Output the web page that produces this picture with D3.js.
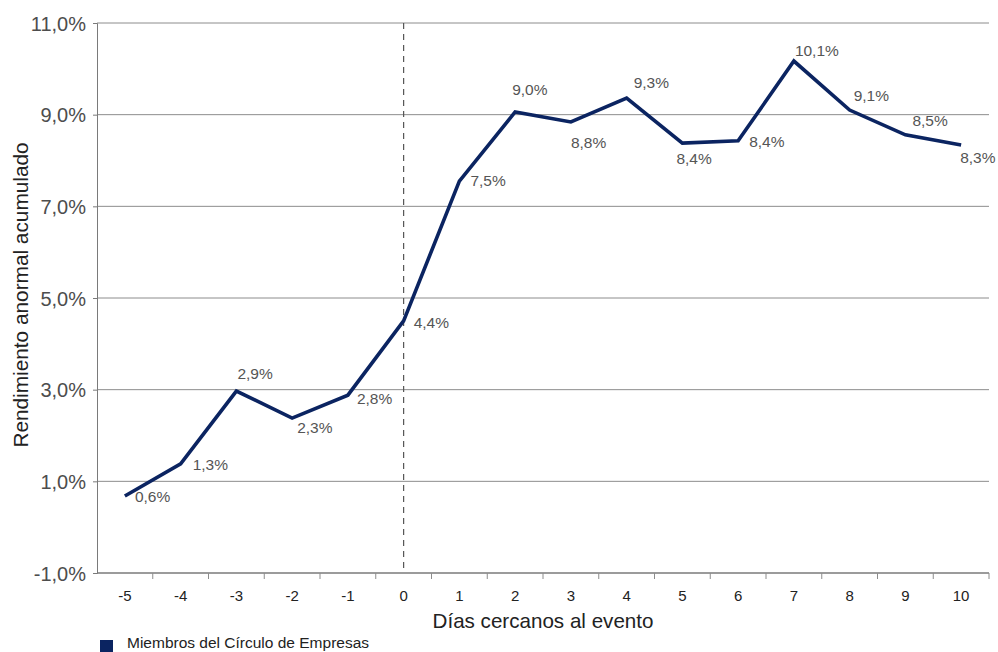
<!DOCTYPE html>
<html>
<head>
<meta charset="utf-8">
<script src="https://cdn.jsdelivr.net/npm/d3@7"></script>
<style>
  html, body { margin: 0; padding: 0; background: #fff; }
  svg { display: block; font-family: "Liberation Sans", Arial, Helvetica, sans-serif; }
</style>
</head>
<body>
<svg id="chart" width="998" height="652"></svg>
<script>
// ---- data ----
const days = ["-5", "-4", "-3", "-2", "-1", "0", "1", "2", "3", "4", "5", "6", "7", "8", "9", "10"];
const cumulativeReturn = [0.68, 1.38, 2.97, 2.38, 2.88, 4.50, 7.55, 9.06, 8.84, 9.36, 8.38, 8.43, 10.17, 9.10, 8.56, 8.34];
const pointLabels = ["0,6%", "1,3%", "2,9%", "2,3%", "2,8%", "4,4%", "7,5%", "9,0%", "8,8%", "9,3%", "8,4%", "8,4%", "10,1%", "9,1%", "8,5%", "8,3%"];
const yTickValues = [-1, 1, 3, 5, 7, 9, 11];
const yTickLabels = ["-1,0%", "1,0%", "3,0%", "5,0%", "7,0%", "9,0%", "11,0%"];
const eventDay = "0";
const seriesName = "Miembros del Círculo de Empresas";
const xTitle = "Días cercanos al evento";
const yTitle = "Rendimiento anormal acumulado";

// ---- layout ----
const svg = d3.select("#chart");
const plot = { left: 97, right: 989, top: 23, bottom: 573 };
const navy = "#0b2461";

const x = d3.scaleBand().domain(days).range([plot.left, plot.right]).padding(0);
const y = d3.scaleLinear().domain([-1, 11]).range([plot.bottom, plot.top]);
const cx = d => x(d) + x.bandwidth() / 2;

// gridlines
svg.append("g").selectAll("line")
  .data(yTickValues.filter(v => v !== -1))
  .join("line")
  .attr("x1", plot.left).attr("x2", plot.right)
  .attr("y1", d => y(d)).attr("y2", d => y(d))
  .attr("stroke", "#8c8c8c").attr("stroke-width", 1);

// y axis
const yAxis = d3.axisLeft(y)
  .tickValues(yTickValues)
  .tickSize(4)
  .tickPadding(7)
  .tickFormat((d, i) => yTickLabels[i]);
const gy = svg.append("g").attr("transform", `translate(${plot.left},0)`).call(yAxis);
gy.select(".domain").attr("stroke", "#7a7a7a");
gy.selectAll(".tick line").attr("stroke", "#7a7a7a");
gy.selectAll(".tick text").attr("fill", "#4d4d4d").style("font-size", "20px").attr("dy", "0.36em");

// x axis (labels centred, ticks on band boundaries)
const xAxis = d3.axisBottom(x).tickSize(0).tickPadding(17);
const gx = svg.append("g").attr("transform", `translate(0,${plot.bottom})`).call(xAxis);
gx.select(".domain").remove();
gx.selectAll(".tick text").attr("fill", "#222").style("font-size", "15px");
svg.append("line")
  .attr("x1", plot.left).attr("x2", plot.right)
  .attr("y1", plot.bottom).attr("y2", plot.bottom)
  .attr("stroke", "#7a7a7a").attr("stroke-width", 1.5);
const boundaries = days.slice(1).map(d => x(d)).concat([x.range()[1]]);
svg.append("g").selectAll("line")
  .data(boundaries)
  .join("line")
  .attr("x1", d => d).attr("x2", d => d)
  .attr("y1", plot.bottom).attr("y2", plot.bottom + 6)
  .attr("stroke", "#8c8c8c").attr("stroke-width", 1);

// event dashed line
svg.append("line")
  .attr("x1", cx(eventDay)).attr("x2", cx(eventDay))
  .attr("y1", plot.top).attr("y2", plot.bottom)
  .attr("stroke", "#555").attr("stroke-width", 1.2)
  .attr("stroke-dasharray", "6,5");

// series line
const line = d3.line()
  .x((d, i) => cx(days[i]))
  .y(d => y(d));
svg.append("path")
  .datum(cumulativeReturn)
  .attr("d", line)
  .attr("fill", "none")
  .attr("stroke", navy)
  .attr("stroke-width", 3.6)
  .attr("stroke-linejoin", "miter");

// data labels (placement nudges relative to point)
const labelNudge = [[10, 6], [12, 6], [1, -12], [5, 15], [9, 9], [10, 7], [11, 5], [-3, -17],
                    [0, 26], [7, -10], [-6, 21], [11, 6], [1, -5], [4, -9], [7, -9], [-1, 18]];
svg.append("g").selectAll("text")
  .data(cumulativeReturn)
  .join("text")
  .attr("x", (d, i) => cx(days[i]) + labelNudge[i][0])
  .attr("y", (d, i) => y(d) + labelNudge[i][1])
  .attr("fill", "#555")
  .style("font-size", "15.5px")
  .text((d, i) => pointLabels[i]);

// axis titles
svg.append("text")
  .attr("x", (plot.left + plot.right) / 2)
  .attr("y", 628)
  .attr("text-anchor", "middle")
  .attr("fill", "#222")
  .style("font-size", "20.6px")
  .text(xTitle);
svg.append("text")
  .attr("transform", `translate(28,${295}) rotate(-90)`)
  .attr("text-anchor", "middle")
  .attr("fill", "#222")
  .style("font-size", "20.8px")
  .text(yTitle);

// legend
svg.append("rect")
  .attr("x", 100).attr("y", 640).attr("width", 13).attr("height", 13)
  .attr("fill", navy);
svg.append("text")
  .attr("x", 127).attr("y", 648)
  .attr("fill", "#222")
  .style("font-size", "15.5px")
  .text(seriesName);
</script>
</body>
</html>
